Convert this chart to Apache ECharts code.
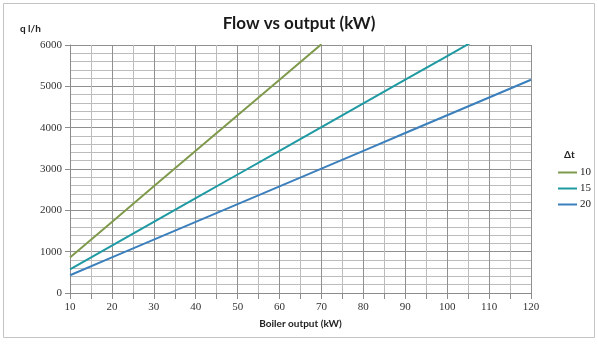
<!DOCTYPE html>
<html>
<head>
<meta charset="utf-8">
<script src="https://cdn.jsdelivr.net/npm/echarts@6/dist/echarts.min.js"></script>
<style>
  html, body { margin: 0; padding: 0; background: #fff; }
  #chart { width: 598px; height: 344px; }
</style>
</head>
<body>
<div id="chart"></div>
<script>
// Boiler output (kW) against water flow (l/h) for three temperature drops
const outputKW = [10, 20, 30, 40, 50, 60, 70, 80, 90, 100, 110, 120];
const flowDt10 = [860, 1720, 2580, 3440, 4300, 5160, 6020];
const flowDt15 = [573, 1147, 1720, 2293, 2867, 3440, 4013, 4587, 5160, 5733, 6307];
const flowDt20 = [430, 860, 1290, 1720, 2150, 2580, 3010, 3440, 3870, 4300, 4730, 5160];
const seriesNames = ['10', '15', '20'];
const seriesColors = ['#7f9a4c', '#1f9aa3', '#3b80bd'];

function pairs(values) {
  return values.map((v, i) => [outputKW[i], v]);
}

const chart = echarts.init(document.getElementById('chart'));
const labelFont = '"Liberation Serif", "DejaVu Serif", serif';

chart.setOption({
  animation: false,
  backgroundColor: '#ffffff',
  title: [
    {
      text: 'Flow vs output (kW)',
      left: 'center',
      top: 10,
      textStyle: { fontFamily: 'Lato, "Open Sans", sans-serif', fontSize: 17, fontWeight: 'bold', color: '#1a1a1a' }
    },
    {
      text: 'Δt',
      left: 559,
      top: 145,
      textStyle: { fontFamily: 'Lato, sans-serif', fontSize: 10, fontWeight: 'bold', color: '#222' }
    }
  ],
  graphic: [
    {
      type: 'rect',
      shape: { x: 3.5, y: 3.5, width: 591, height: 334 },
      style: { fill: 'none', stroke: '#c4c4c4', lineWidth: 1 },
      silent: true
    },
    {
      type: 'text',
      left: 20,
      top: 24,
      style: { text: 'q l/h', font: 'bold 10px Lato, sans-serif', fill: '#222' }
    }
  ],
  legend: {
    orient: 'vertical',
    left: 553,
    top: 162,
    icon: 'rect',
    itemWidth: 19,
    itemHeight: 2,
    itemGap: 5,
    data: seriesNames,
    textStyle: { fontFamily: labelFont, fontSize: 11, color: '#222', padding: [0, 0, 0, -2] }
  },
  grid: { left: 70, right: 67, top: 45, bottom: 51 },
  xAxis: {
    type: 'value',
    min: 10,
    max: 120,
    interval: 10,
    name: 'Boiler output (kW)',
    nameLocation: 'middle',
    nameGap: 26,
    nameTextStyle: { fontFamily: 'Lato, sans-serif', fontSize: 10, fontWeight: 'bold', color: '#222' },
    axisLine: { onZero: false, lineStyle: { color: '#8c8c8c' } },
    axisTick: { show: true, length: 6, lineStyle: { color: '#8c8c8c' } },
    minorTick: { show: true, splitNumber: 2, length: 6, lineStyle: { color: '#8c8c8c' } },
    axisLabel: { fontFamily: labelFont, fontSize: 11, color: '#333', margin: 9 },
    splitLine: { show: true, lineStyle: { color: '#909090', width: 1 } },
    minorSplitLine: { show: true, lineStyle: { color: '#bcbcbc', width: 1 } }
  },
  yAxis: {
    type: 'value',
    min: 0,
    max: 6000,
    interval: 1000,
    axisLine: { show: true, lineStyle: { color: '#8c8c8c' } },
    axisTick: { show: true, length: 5, lineStyle: { color: '#8c8c8c' } },
    minorTick: { show: false, splitNumber: 5 },
    axisLabel: { fontFamily: labelFont, fontSize: 11, color: '#333', margin: 8, formatter: v => String(v) },
    splitLine: { show: true, lineStyle: { color: '#909090', width: 1 } },
    minorSplitLine: { show: true, lineStyle: { color: '#bcbcbc', width: 1 } }
  },
  series: [
    { name: seriesNames[0], type: 'line', data: pairs(flowDt10), symbol: 'none', clip: true,
      lineStyle: { width: 2, color: seriesColors[0] }, itemStyle: { color: seriesColors[0] } },
    { name: seriesNames[1], type: 'line', data: pairs(flowDt15), symbol: 'none', clip: true,
      lineStyle: { width: 2, color: seriesColors[1] }, itemStyle: { color: seriesColors[1] } },
    { name: seriesNames[2], type: 'line', data: pairs(flowDt20), symbol: 'none', clip: true,
      lineStyle: { width: 2, color: seriesColors[2] }, itemStyle: { color: seriesColors[2] } }
  ]
});
</script>
</body>
</html>
